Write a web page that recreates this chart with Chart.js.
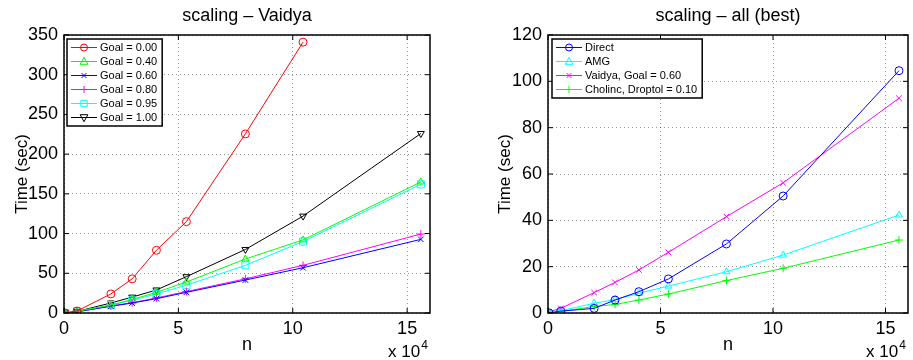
<!DOCTYPE html>
<html>
<head>
<meta charset="utf-8">
<script src="https://cdn.jsdelivr.net/npm/chart.js@4"></script>
<style>
    body { margin: 0; background: #fff; }
    #wrap { position: relative; width: 913px; height: 360px; overflow: hidden; }
    canvas { position: absolute; top: 0; }
    #canvas_vaidya { left: 0; }
    #canvas_todos { left: 460px; }
</style>
</head>
<body>
<div id="wrap">
    <canvas id="canvas_vaidya" width="460" height="360"></canvas>
    <canvas id="canvas_todos" width="453" height="360"></canvas>
</div>
<script>
    // tamanhos do problema (n, em unidades de 10^4)
    var nValores = [0.05, 0.57, 2.05, 2.98, 4.04, 5.35, 7.93, 10.45, 15.6];
    var xTicks = [0, 5, 10, 15];

    // scaling - Vaidya
    var tituloVaidya = 'scaling \u2013 Vaidya';
    var labelsVaidya = ['Goal = 0.00', 'Goal = 0.40', 'Goal = 0.60', 'Goal = 0.80', 'Goal = 0.95', 'Goal = 1.00'];
    var goal000 = [0, 2.5, 24, 43, 79, 115, 225.5, 341];
    var goal040 = [0, 2, 10, 17, 26, 39, 68, 92, 165];
    var goal060 = [0, 1.5, 8.5, 12.5, 18, 26, 41.5, 57, 92.7];
    var goal080 = [0, 1.5, 9, 13, 19, 27, 43, 60, 99.4];
    var goal095 = [0, 2, 10, 16, 24, 35, 60, 90, 162];
    var goal100 = [0, 2, 12.6, 20, 29, 45.7, 80, 122, 226];
    var yTicksVaidya = [0, 50, 100, 150, 200, 250, 300, 350];

    // scaling - all (best)
    var tituloTodos = 'scaling \u2013 all (best)';
    var labelsTodos = ['Direct', 'AMG', 'Vaidya, Goal = 0.60', 'Cholinc, Droptol = 0.10'];
    var direct = [0, 0.8, 2, 5.6, 9.2, 14.7, 29.8, 50.5, 104.6];
    var amg = [0.5, 1, 4.2, 5.8, 8.5, 11.6, 17.8, 25, 42.3];
    var vaidya060 = [0.5, 2, 8.8, 13.2, 18.6, 26.2, 41.6, 56.2, 92.7];
    var cholinc = [0.2, 0.7, 2.8, 3.7, 5.6, 8.2, 14, 19.3, 31.5];
    var yTicksTodos = [0, 20, 40, 60, 80, 100, 120];

    var fonte = 'Liberation Sans, Arial, Helvetica, sans-serif';

    function pontos(valores) {
        var lista = [];
        valores.forEach(function (v, i) {
            lista.push({ x: nValores[i], y: v });
        });
        return lista;
    }

    function serie(label, valores, cor, estilo, rotacao) {
        return {
            label: label,
            data: pontos(valores),
            borderColor: cor,
            backgroundColor: 'transparent',
            borderWidth: 1,
            pointStyle: estilo,
            pointRotation: rotacao || 0,
            pointRadius: estilo == 'rect' ? 5 : 4,
            pointBorderWidth: 1,
            pointBorderColor: cor,
            pointBackgroundColor: 'transparent',
            tension: 0
        };
    }

    // marcador da legenda (linha + simbolo, estilo matlab)
    function desenharMarcador(ctx, estilo, rot, x, y, r, cor) {
        ctx.save();
        ctx.strokeStyle = cor;
        ctx.lineWidth = 1;
        ctx.translate(x, y);
        ctx.rotate(rot * Math.PI / 180);
        ctx.beginPath();
        if (estilo == 'circle') {
            ctx.arc(0, 0, r, 0, Math.PI * 2);
        } else if (estilo == 'triangle') {
            ctx.moveTo(0, -r * 1.2);
            ctx.lineTo(r * 1.1, r * 0.8);
            ctx.lineTo(-r * 1.1, r * 0.8);
            ctx.closePath();
        } else if (estilo == 'rect') {
            ctx.rect(-r * 0.9, -r * 0.9, r * 1.8, r * 1.8);
        } else if (estilo == 'cross') {
            ctx.moveTo(-r, 0); ctx.lineTo(r, 0);
            ctx.moveTo(0, -r); ctx.lineTo(0, r);
        } else if (estilo == 'crossRot') {
            var d = r * 0.7;
            ctx.moveTo(-d, -d); ctx.lineTo(d, d);
            ctx.moveTo(-d, d); ctx.lineTo(d, -d);
        }
        ctx.stroke();
        ctx.restore();
    }

    var pluginMatlab = {
        id: 'matlab',
        afterDraw: function (chart, args, opts) {
            var ctx = chart.ctx;
            var area = chart.chartArea;
            var xs = chart.scales.x;
            var ys = chart.scales.y;

            ctx.save();
            // caixa
            ctx.strokeStyle = '#000';
            ctx.lineWidth = 1.5;
            ctx.strokeRect(area.left, area.top, area.right - area.left, area.bottom - area.top);

            // ticks para dentro
            ctx.lineWidth = 1;
            ctx.beginPath();
            xs.ticks.forEach(function (t) {
                var px = xs.getPixelForValue(t.value);
                ctx.moveTo(px, area.bottom); ctx.lineTo(px, area.bottom - 5);
                ctx.moveTo(px, area.top); ctx.lineTo(px, area.top + 5);
            });
            ys.ticks.forEach(function (t) {
                var py = ys.getPixelForValue(t.value);
                ctx.moveTo(area.left, py); ctx.lineTo(area.left + 5, py);
                ctx.moveTo(area.right, py); ctx.lineTo(area.right - 5, py);
            });
            ctx.stroke();

            // titulo
            ctx.fillStyle = '#000';
            ctx.font = '18px ' + fonte;
            ctx.textAlign = 'center';
            ctx.textBaseline = 'middle';
            ctx.fillText(opts.titulo, (area.left + area.right) / 2, 16);

            // x 10^4
            ctx.textAlign = 'left';
            ctx.textBaseline = 'alphabetic';
            ctx.font = '17px ' + fonte;
            var xx = area.right - 42;
            ctx.fillText('x 10', xx, 357);
            var w = ctx.measureText('x 10').width;
            ctx.font = '12px ' + fonte;
            ctx.fillText('4', xx + w + 1, 349);

            // legenda
            ctx.font = '11px ' + fonte;
            var maior = 0;
            chart.data.datasets.forEach(function (ds) {
                maior = Math.max(maior, ctx.measureText(ds.label).width);
            });
            var bx = area.left + opts.legX;
            var by = area.top + 4;
            var linha = 14;
            var bw = 4 + 26 + 3 + maior + 5;
            var bh = chart.data.datasets.length * linha + 3;
            ctx.fillStyle = '#fff';
            ctx.fillRect(bx, by, bw, bh);
            ctx.strokeStyle = '#000';
            ctx.lineWidth = 1.5;
            ctx.strokeRect(bx, by, bw, bh);
            chart.data.datasets.forEach(function (ds, i) {
                var cy = by + 8.5 + i * linha;
                ctx.strokeStyle = ds.borderColor;
                ctx.lineWidth = 1;
                ctx.beginPath();
                ctx.moveTo(bx + 4, cy);
                ctx.lineTo(bx + 30, cy);
                ctx.stroke();
                desenharMarcador(ctx, ds.pointStyle, ds.pointRotation, bx + 17, cy, 3.5, ds.borderColor);
                ctx.fillStyle = '#000';
                ctx.textBaseline = 'middle';
                ctx.fillText(ds.label, bx + 33, cy + 0.5);
            });
            ctx.restore();
        }
    };

    function criarOpcoes(titulo, yMax, yTicks, yLargura, yTituloPad, padDireita, legX) {
        return {
            responsive: false,
            animation: false,
            layout: { padding: { top: 35, right: padDireita, left: 0, bottom: 0 } },
            plugins: {
                legend: { display: false },
                title: { display: false },
                tooltip: { enabled: false },
                matlab: { titulo: titulo, legX: legX }
            },
            scales: {
                x: {
                    type: 'linear',
                    min: 0,
                    max: 16,
                    afterBuildTicks: function (scale) {
                        scale.ticks = xTicks.map(function (v) { return { value: v }; });
                    },
                    afterFit: function (scale) { scale.height = 47; },
                    grid: { color: 'rgba(0,0,0,0.4)', drawTicks: false },
                    border: { display: false, dash: [1, 3] },
                    ticks: { color: '#000', padding: 5, font: { family: fonte, size: 18 } },
                    title: {
                        display: true, text: 'n', color: '#000',
                        font: { family: fonte, size: 18 }, padding: { top: 0, bottom: 4 }
                    }
                },
                y: {
                    type: 'linear',
                    min: 0,
                    max: yMax,
                    afterBuildTicks: function (scale) {
                        scale.ticks = yTicks.map(function (v) { return { value: v }; });
                    },
                    afterFit: function (scale) { scale.width = yLargura; },
                    grid: { color: 'rgba(0,0,0,0.4)', drawTicks: false },
                    border: { display: false, dash: [1, 3] },
                    ticks: { color: '#000', padding: 6, font: { family: fonte, size: 18 } },
                    title: {
                        display: true, text: 'Time (sec)', color: '#000',
                        font: { family: fonte, size: 17 }, padding: { top: yTituloPad, bottom: 0 }
                    }
                }
            }
        };
    }

    var graficoVaidya = new Chart(document.getElementById('canvas_vaidya'), {
        type: 'line',
        data: {
            datasets: [
                serie(labelsVaidya[0], goal000, '#ff0000', 'circle'),
                serie(labelsVaidya[1], goal040, '#00ff00', 'triangle'),
                serie(labelsVaidya[2], goal060, '#0000ff', 'crossRot'),
                serie(labelsVaidya[3], goal080, '#ff00ff', 'cross'),
                serie(labelsVaidya[4], goal095, '#00ffff', 'rect'),
                serie(labelsVaidya[5], goal100, '#000000', 'triangle', 180)
            ]
        },
        options: criarOpcoes(tituloVaidya, 350, yTicksVaidya, 64, 12, 30, 3),
        plugins: [pluginMatlab]
    });

    var graficoTodos = new Chart(document.getElementById('canvas_todos'), {
        type: 'line',
        data: {
            datasets: [
                serie(labelsTodos[0], direct, '#0000ff', 'circle'),
                serie(labelsTodos[1], amg, '#00ffff', 'triangle'),
                serie(labelsTodos[2], vaidya060, '#ff00ff', 'crossRot'),
                serie(labelsTodos[3], cholinc, '#00ff00', 'cross')
            ]
        },
        options: criarOpcoes(tituloTodos, 120, yTicksTodos, 88, 35, 0, 4),
        plugins: [pluginMatlab]
    });
</script>
</body>
</html>
